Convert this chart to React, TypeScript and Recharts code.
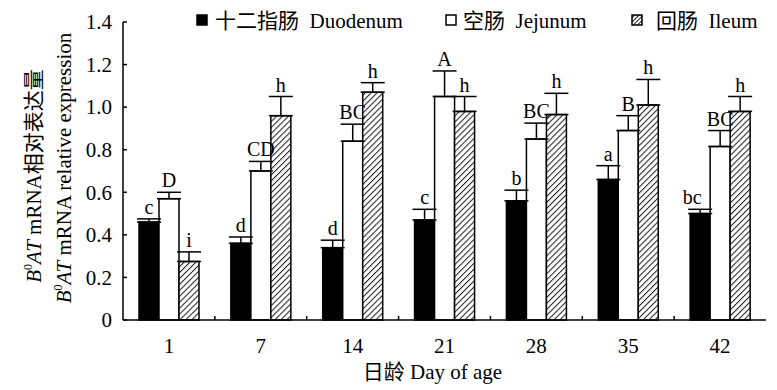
import React from 'react';
import { BarChart, Bar, XAxis, YAxis, ErrorBar, LabelList, Legend } from 'recharts';

const days = ['1', '7', '14', '21', '28', '35', '42'];
const duodenum = [0.46, 0.36, 0.34, 0.47, 0.56, 0.66, 0.5];
const duodenumErr = [0.015, 0.03, 0.035, 0.05, 0.05, 0.065, 0.02];
const duodenumLabels = ['c', 'd', 'd', 'c', 'b', 'a', 'bc'];
const jejunum = [0.57, 0.7, 0.84, 1.05, 0.85, 0.89, 0.815];
const jejunumErr = [0.03, 0.045, 0.08, 0.12, 0.075, 0.07, 0.075];
const jejunumLabels = ['D', 'CD', 'BC', 'A', 'BC', 'B', 'BC'];
const ileum = [0.275, 0.96, 1.07, 0.98, 0.965, 1.01, 0.98];
const ileumErr = [0.045, 0.09, 0.045, 0.07, 0.1, 0.12, 0.07];
const ileumLabels = ['i', 'h', 'h', 'h', 'h', 'h', 'h'];
const yTicks = [0, 0.2, 0.4, 0.6, 0.8, 1.0, 1.2, 1.4];

const data = days.map((d, i) => ({
  day: d,
  duo: duodenum[i],
  duoErr: [0, duodenumErr[i]],
  jej: jejunum[i],
  jejErr: [0, jejunumErr[i]],
  ile: ileum[i],
  ileErr: [0, ileumErr[i]],
}));

const CHART_W = 777;
const CHART_H = 390;
const MARGIN = { top: 22, right: 11, bottom: 0, left: 0 };
const Y_AXIS_W = 123;
const PLOT_W = CHART_W - MARGIN.left - MARGIN.right - Y_AXIS_W;

const FONT = '"Liberation Serif", "Times New Roman", "Noto Sans CJK SC", serif';
const FS = 21;
const X_TICK_MARGIN = 18;

const makeLabel = (labels: string[], errs: number[], nudge: number[] = []) => (props: any) => {
  const { x, y, width, height, value, index } = props;
  const v = Number(value);
  const ppu = v ? Number(height) / v : 0;
  const top = Number(y) - errs[index] * ppu;
  return (
    <text
      x={Number(x) + Number(width) / 2 + (nudge[index] || 0)}
      y={top - 5}
      textAnchor="middle"
      fontSize={FS - 1}
      fontFamily={FONT}
      fill="#000"
    >
      {labels[index]}
    </text>
  );
};

const YTick = (props: any) => {
  const { x, y, payload } = props;
  const axisX = Number(x) + 11;
  const v = payload.value;
  return (
    <g>
      <line x1={axisX} x2={axisX + 4} y1={y} y2={y} stroke="#000" strokeWidth={1.5} />
      <text x={x} y={y} dy="0.35em" textAnchor="end" fontSize={FS} fontFamily={FONT} fill="#000">
        {v === 0 ? '0' : v.toFixed(1)}
      </text>
    </g>
  );
};

const XTick = (props: any) => {
  const { x, y, payload, index } = props;
  const axisY = Number(y) - X_TICK_MARGIN;
  const half = PLOT_W / days.length / 2;
  return (
    <g>
      {index < days.length - 1 ? (
        <line x1={x + half} x2={x + half} y1={axisY} y2={axisY - 4} stroke="#000" strokeWidth={1.5} />
      ) : null}
      <text x={x} y={y} dy="0.71em" textAnchor="middle" fontSize={FS} fontFamily={FONT} fill="#000">
        {payload.value}
      </text>
    </g>
  );
};

const legendItems = [
  { fill: '#000', label: '十二指肠  Duodenum', sx: 197, tx: 215 },
  { fill: '#fff', label: '空肠  Jejunum', sx: 446, tx: 463 },
  { fill: 'url(#hatchLegend)', label: '回肠  Ileum', sx: 632, tx: 656 },
];

const renderLegend = () => (
  <svg width={777} height={38} style={{ display: 'block' }}>
    {legendItems.map((it) => (
      <g key={it.label}>
        <rect x={it.sx} y={15} width={10} height={10} fill={it.fill} stroke="#000" strokeWidth={1.5} />
        <text x={it.tx} y={23} fontSize={FS} fontFamily={FONT} fill="#000" dominantBaseline="middle" style={{ whiteSpace: 'pre' }}>
          {it.label}
        </text>
      </g>
    ))}
  </svg>
);

const YLabel = (props: any) => {
  const vb = props.viewBox || {};
  const cy = (vb.y ?? 22) + (vb.height ?? 298) / 2;
  const x1 = 36;
  const x2 = 66;
  return (
    <g fontFamily={FONT} fontSize={FS} fill="#000">
      <text x={x1} y={cy + 5} textAnchor="middle" transform={`rotate(-90, ${x1}, ${cy + 5})`} dominantBaseline="middle">
        <tspan fontStyle="italic">B</tspan>
        <tspan fontSize={12} dy={-7}>0</tspan>
        <tspan fontStyle="italic" dy={7}>A</tspan>
        <tspan fontStyle="italic">T</tspan>
        <tspan> mRNA相对表达量</tspan>
      </text>
      <text x={x2} y={cy - 3} textAnchor="middle" transform={`rotate(-90, ${x2}, ${cy - 3})`} dominantBaseline="middle">
        <tspan fontStyle="italic">B</tspan>
        <tspan fontSize={12} dy={-7}>0</tspan>
        <tspan fontStyle="italic" dy={7}>A</tspan>
        <tspan fontStyle="italic">T</tspan>
        <tspan> mRNA relative expression</tspan>
      </text>
    </g>
  );
};

const XLabel = (props: any) => {
  const vb = props.viewBox || {};
  const cx = (vb.x ?? 123) + (vb.width ?? 643) / 2 - 12;
  return (
    <text x={cx} y={379} textAnchor="middle" fontSize={FS} fontFamily={FONT} fill="#000" style={{ whiteSpace: 'pre' }}>
      日龄 Day of age
    </text>
  );
};

export default function App() {
  return (
    <div style={{ position: 'absolute', left: 0, top: 0, width: CHART_W, height: CHART_H, background: '#fff' }}>
      <BarChart
        width={CHART_W}
        height={CHART_H}
        data={data}
        margin={MARGIN}
        barGap={0}
        barSize={20}
      >
        <defs>
          <pattern id="hatch" width={4.2} height={4.2} patternUnits="userSpaceOnUse" patternTransform="rotate(45)">
            <rect width={4.2} height={4.2} fill="#fff" />
            <line x1={0} y1={0} x2={0} y2={4.2} stroke="#1a1a1a" strokeWidth={2} />
          </pattern>
          <pattern id="hatchLegend" width={3} height={3} patternUnits="userSpaceOnUse" patternTransform="rotate(45)">
            <rect width={3} height={3} fill="#fff" />
            <line x1={0} y1={0} x2={0} y2={3} stroke="#222" strokeWidth={2} />
          </pattern>
        </defs>
        <XAxis
          dataKey="day"
          axisLine={{ stroke: '#000', strokeWidth: 1.5 }}
          tickLine={false}
          tickSize={0}
          tickMargin={X_TICK_MARGIN}
          height={70}
          tick={<XTick />}
          interval={0}
          label={<XLabel />}
        />
        <YAxis
          domain={[0, 1.4]}
          ticks={yTicks}
          width={Y_AXIS_W}
          axisLine={{ stroke: '#000', strokeWidth: 1.5 }}
          tickLine={false}
          tickSize={0}
          tickMargin={11}
          tick={<YTick />}
          interval={0}
          label={<YLabel />}
        />
        <Legend
          layout="horizontal"
          verticalAlign="middle"
          align="center"
          wrapperStyle={{ top: 0, left: 0, width: 777, height: 38 }}
          content={renderLegend}
        />
        <Bar dataKey="duo" barSize={20} fill="#000" stroke="#000" strokeWidth={1.5} isAnimationActive={false}>
          <ErrorBar dataKey="duoErr" width={12} stroke="#000" strokeWidth={1.5} direction="y" isAnimationActive={false} />
          <LabelList content={makeLabel(duodenumLabels, duodenumErr, [0, 0, 0, 0, 0, 0, -8])} />
        </Bar>
        <Bar dataKey="jej" barSize={20} fill="#fff" stroke="#000" strokeWidth={1.5} isAnimationActive={false}>
          <ErrorBar dataKey="jejErr" width={12} stroke="#000" strokeWidth={1.5} direction="y" isAnimationActive={false} />
          <LabelList content={makeLabel(jejunumLabels, jejunumErr)} />
        </Bar>
        <Bar dataKey="ile" barSize={20} fill="url(#hatch)" stroke="#000" strokeWidth={1.5} isAnimationActive={false}>
          <ErrorBar dataKey="ileErr" width={12} stroke="#000" strokeWidth={1.5} direction="y" isAnimationActive={false} />
          <LabelList content={makeLabel(ileumLabels, ileumErr)} />
        </Bar>
      </BarChart>
    </div>
  );
}
